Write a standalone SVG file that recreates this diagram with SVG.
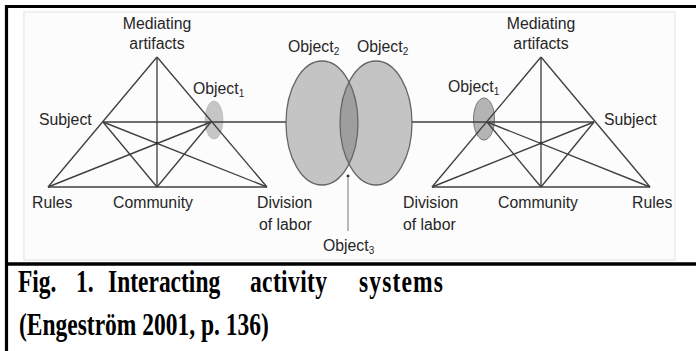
<svg xmlns="http://www.w3.org/2000/svg" width="696" height="351" viewBox="0 0 696 351">
<defs>
<style>
.lbl{font-family:"Liberation Sans",Arial,sans-serif;font-size:15.8px;fill:#262626}
.sub{font-size:10px}
.ln{stroke:#404040;stroke-width:1.35;fill:none}
.cap{font-family:"Liberation Serif","Times New Roman",serif;font-weight:bold;font-size:23.5px;fill:#000}
</style>
<clipPath id="clipR"><ellipse cx="376" cy="123" rx="36" ry="62"/></clipPath>
</defs>
<rect x="0" y="0" width="696" height="351" fill="#fff"/>
<rect x="24" y="12" width="651" height="248" fill="#fcfcfc" stroke="#ececec" stroke-width="1.5"/>
<!-- frame -->
<g id="frame" fill="none" stroke="#000">
<line x1="5" y1="6.5" x2="696" y2="6.5" stroke-width="3.2"/>
<line x1="6.5" y1="5" x2="6.5" y2="351" stroke-width="3.2"/>
<line x1="5" y1="264" x2="696" y2="264" stroke-width="3.5"/>
</g>
<!-- object ellipses -->
<g id="object1-left"><ellipse cx="214" cy="120" rx="9" ry="19" fill="#c6c6c6" stroke="#bbb" stroke-width="0.8"/></g>
<g id="object1-right"><ellipse cx="484" cy="119" rx="10.5" ry="21" fill="#b4b4b4" stroke="#777" stroke-width="1"/></g>
<g id="object2-left"><ellipse cx="322" cy="123" rx="36" ry="62" fill="#c4c4c4"/></g>
<g id="object2-right"><ellipse cx="376" cy="123" rx="36" ry="62" fill="#c4c4c4"/></g>
<g id="object3-overlap"><ellipse cx="322" cy="123" rx="36" ry="62" fill="#9e9e9e" clip-path="url(#clipR)"/>
<ellipse cx="322" cy="123" rx="36" ry="62" fill="none" stroke="#666" stroke-width="1.3"/>
<ellipse cx="376" cy="123" rx="36" ry="62" fill="none" stroke="#666" stroke-width="1.3"/></g>
<!-- connectors -->
<g id="connectors" class="ln">
<!-- left triangle -->
<line x1="157" y1="57" x2="48" y2="187"/>
<line x1="157" y1="57" x2="267" y2="187"/>
<line x1="48" y1="187" x2="267" y2="187"/>
<line x1="157" y1="57" x2="157" y2="187"/>
<line x1="103" y1="122" x2="211" y2="122"/>
<line x1="103" y1="122" x2="157" y2="187"/>
<line x1="103" y1="122" x2="267" y2="187"/>
<line x1="211" y1="122" x2="48" y2="187"/>
<line x1="211" y1="122" x2="157" y2="187"/>
<line x1="211" y1="122" x2="286" y2="122"/>
<!-- right triangle -->
<line x1="541" y1="57" x2="432" y2="187"/>
<line x1="541" y1="57" x2="650" y2="187"/>
<line x1="432" y1="187" x2="650" y2="187"/>
<line x1="541" y1="57" x2="541" y2="187"/>
<line x1="487" y1="122" x2="594" y2="122"/>
<line x1="594" y1="122" x2="541" y2="187"/>
<line x1="594" y1="122" x2="432" y2="187"/>
<line x1="487" y1="122" x2="650" y2="187"/>
<line x1="487" y1="122" x2="541" y2="187"/>
<line x1="412" y1="122" x2="487" y2="122"/>
<!-- object3 pointer -->
<line x1="348" y1="178" x2="348" y2="231" stroke="#999"/>
</g>
<g id="dots" fill="#333">
<circle cx="157" cy="143" r="1.6"/><circle cx="541" cy="143" r="1.6"/>
<circle cx="348" cy="176" r="1.5"/>
</g>
<!-- labels left -->
<g id="left-labels" class="lbl">
<text x="157" y="29" text-anchor="middle">Mediating</text>
<text x="157" y="49" text-anchor="middle">artifacts</text>
<text x="193" y="94">Object<tspan class="sub" dy="3">1</tspan></text>
<text x="39" y="125">Subject</text>
<text x="32" y="208">Rules</text>
<text x="153" y="208" text-anchor="middle">Community</text>
<text x="257" y="208">Division</text>
<text x="259" y="230">of labor</text>
</g>
<g id="center-labels" class="lbl">
<text x="288" y="52">Object<tspan class="sub" dy="3">2</tspan></text>
<text x="357" y="52">Object<tspan class="sub" dy="3">2</tspan></text>
<text x="323" y="251">Object<tspan class="sub" dy="3">3</tspan></text>
</g>
<g id="right-labels" class="lbl">
<text x="541" y="29" text-anchor="middle">Mediating</text>
<text x="541" y="49" text-anchor="middle">artifacts</text>
<text x="448" y="92">Object<tspan class="sub" dy="3">1</tspan></text>
<text x="604" y="125">Subject</text>
<text x="403" y="208">Division</text>
<text x="403" y="230">of labor</text>
<text x="538" y="208" text-anchor="middle">Community</text>
<text x="632" y="208">Rules</text>
</g>
<!-- caption -->
<g id="caption">
<g transform="translate(0,292) scale(1,1.35)">
<text class="cap" x="18" y="0">Fig.</text>
<text class="cap" x="76" y="0">1.</text>
<text class="cap" x="108" y="0">Interacting</text>
<text class="cap" x="250" y="0" textLength="77" lengthAdjust="spacing">activity</text>
<text class="cap" x="359" y="0" textLength="84" lengthAdjust="spacing">systems</text>
</g>
<g transform="translate(0,335) scale(1,1.35)">
<text class="cap" x="19" y="0">(Engeström 2001, p. 136)</text>
</g>
</g>
</svg>
